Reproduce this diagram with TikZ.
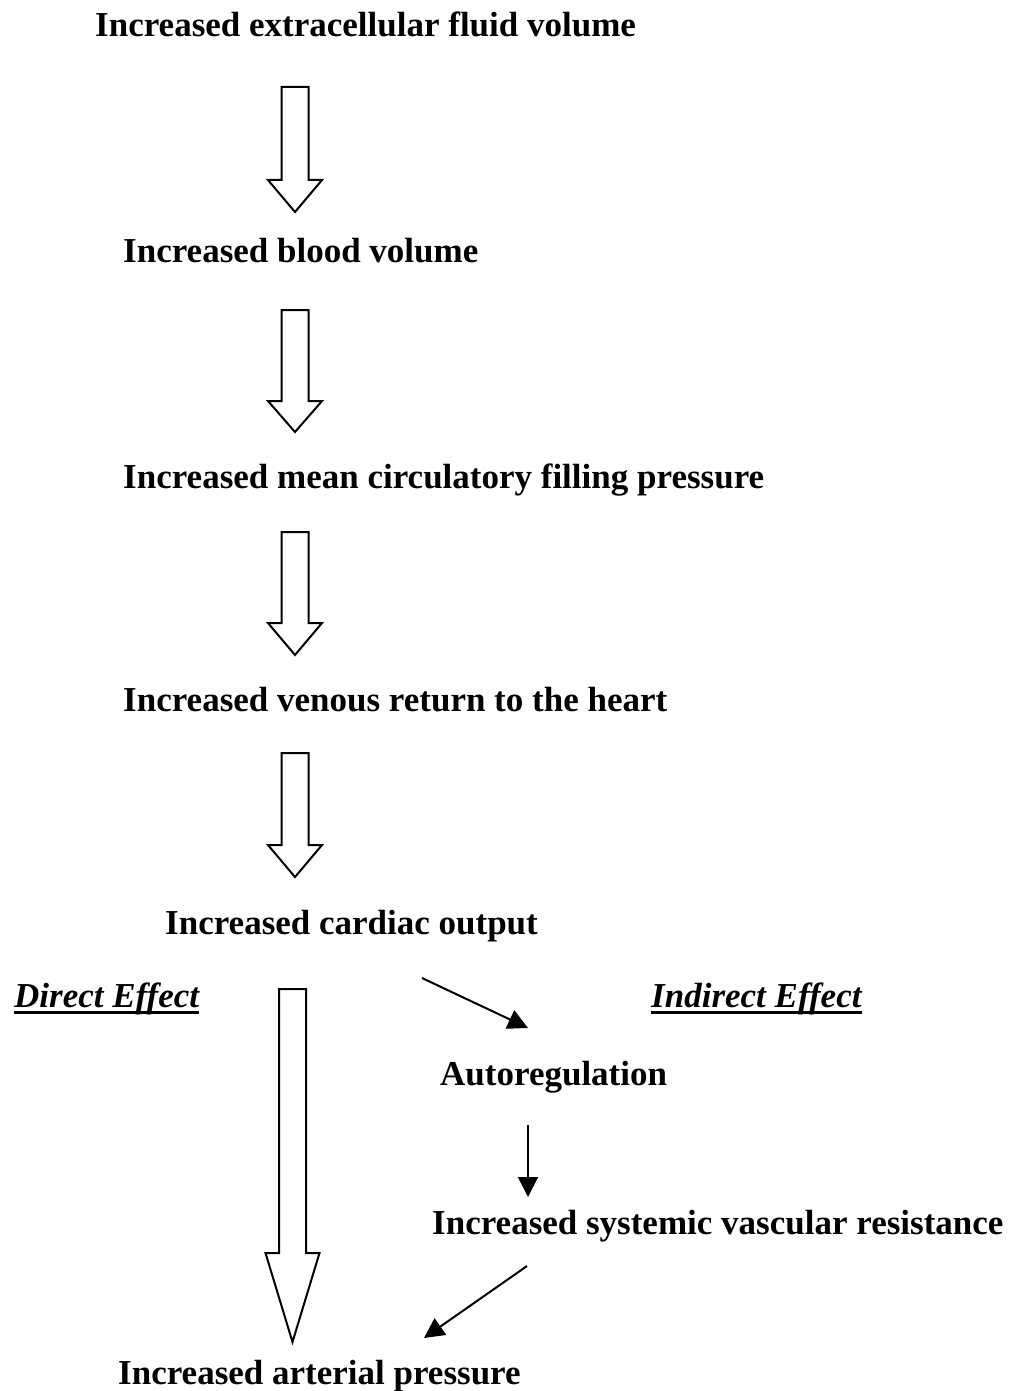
\documentclass[tikz,border=0pt]{standalone}
\usepackage{fontspec}
\setmainfont{Liberation Serif}
\usetikzlibrary{arrows.meta}
\tikzset{
  lbl/.style={anchor=base west, inner sep=0pt, font=\fontsize{35}{40}\selectfont\bfseries},
  elbl/.style={anchor=base west, inner sep=0pt, font=\fontsize{35}{40}\selectfont\bfseries\itshape},
  blk/.style={draw=black, line width=2pt, fill=white, line join=miter},
  thin/.style={draw=black, line width=2pt, -{Triangle[length=20pt,width=20pt]}},
  uline/.style={draw=black, line width=3pt}
}
% #1 centre x, #2 top y, #3 head start y, #4 tip y, #5 half shaft, #6 half head
\newcommand\blockarr[6]{%
  \path[blk] (#1-#5,#2) -- (#1+#5,#2) -- (#1+#5,#3) -- (#1+#6,#3) -- (#1,#4)
    -- (#1-#6,#3) -- (#1-#5,#3) -- cycle;}
\begin{document}
\begin{tikzpicture}[x=1pt,y=-1pt]
\useasboundingbox[fill=white] (0,0) rectangle (1012,1391);

\node[lbl] (ecf) at (95,37) {Increased extracellular fluid volume};
\node[lbl] (bv) at (123,262) {Increased blood volume};
\node[lbl] (mcfp) at (123,488) {Increased mean circulatory filling pressure};
\node[lbl] (vr) at (123,711) {Increased venous return to the heart};
\node[lbl] (co) at (165,934) {Increased cardiac output};
\node[elbl] (de) at (14,1007) {Direct Effect};
\node[elbl] (ie) at (651,1007) {Indirect Effect};
\node[lbl] (ar) at (440,1085) {Autoregulation};
\node[lbl] (svr) at (432,1234) {Increased systemic vascular resistance};
\node[lbl] (ap) at (118,1384) {Increased arterial pressure};

\draw[uline] (de.base west) ++(0,5) -- ([yshift=-5pt]de.base east);
\draw[uline] (ie.base west) ++(0,5) -- ([yshift=-5pt]ie.base east);

\blockarr{295}{87}{180}{212}{13.5}{27}
\blockarr{295}{310}{401}{432}{13.5}{27}
\blockarr{295}{532}{623}{655}{13.5}{27}
\blockarr{295}{753}{845}{877}{13.5}{27}
\blockarr{292.5}{989}{1253}{1342}{13.5}{27}

\coordinate (a1s) at (422,978);
\coordinate (a1e) at (528,1028);
\coordinate (a2s) at (528,1125);
\coordinate (a2e) at (528,1197);
\coordinate (a3s) at (527,1266);
\coordinate (a3e) at (424,1338);
\draw[thin] (a1s) -- (a1e);
\draw[thin] (a2s) -- (a2e);
\draw[thin] (a3s) -- (a3e);
\end{tikzpicture}
\end{document}
